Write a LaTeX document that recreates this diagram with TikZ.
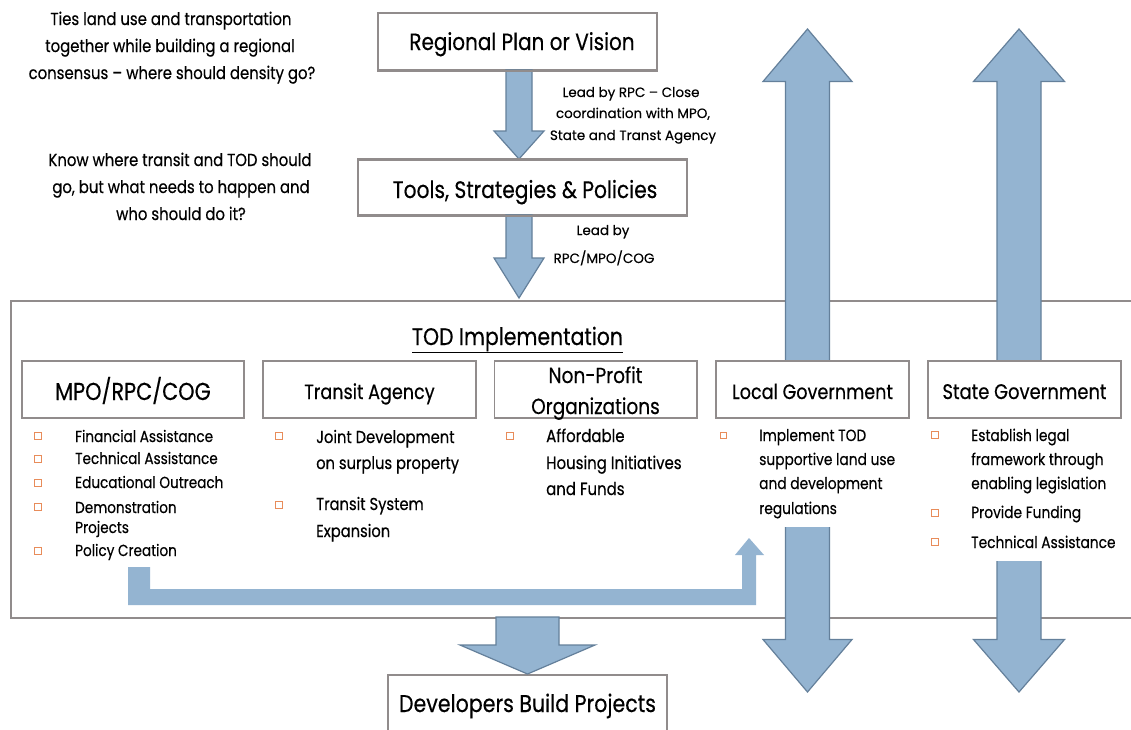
\documentclass[tikz,border=0pt]{standalone}
\usepackage{fontspec}
\setmainfont{Poppins}[FakeStretch=0.85,FakeBold=0.4]
\newfontfamily\leadfont{Poppins}[FakeStretch=1.0,FakeBold=0.3]
\usetikzlibrary{calc}
\definecolor{arrfill}{RGB}{148,180,209}
\definecolor{arrline}{RGB}{100,128,155}
\definecolor{boxline}{RGB}{145,140,140}
\definecolor{bul}{RGB}{232,140,90}
\newcommand\fsz[2]{\fontsize{#1}{#2}\selectfont}
\newcommand\downarr[5]{\draw[blockarrow] ($(#1)+(-#3,0)$) -- ($(#1)+(#3,0)$) -- ($(#2)+(#3,-#5)$) -- ($(#2)+(#4,-#5)$) -- (#2) -- ($(#2)+(-#4,-#5)$) -- ($(#2)+(-#3,-#5)$) -- cycle;}
\newcommand\dblarrow[5]{\draw[blockarrow] (#1) -- ($(#1)+(#4,#5)$) -- ($(#1)+(#3,#5)$) -- ($(#2)+(#3,-#5)$) -- ($(#2)+(#4,-#5)$) -- (#2) -- ($(#2)+(-#4,-#5)$) -- ($(#2)+(-#3,-#5)$) -- ($(#1)+(-#3,#5)$) -- ($(#1)+(-#4,#5)$) -- cycle;}
\begin{document}
\begin{tikzpicture}[x=1pt,y=-1pt,
  box/.style={draw=boxline, line width=1.6pt, fill=white, inner sep=0pt},
  blockarrow/.style={fill=arrfill, draw=arrline, line width=1.2pt, line join=miter},
  bulletbox/.style={draw=bul, line width=1pt, fill=white, minimum size=7pt, inner sep=0pt},
  note/.style={anchor=base, inner sep=0pt, font=\fsz{17.5}{20}},
  ttl/.style={anchor=base, inner sep=0pt, font=\fsz{23.5}{26}},
  sub/.style={anchor=base, inner sep=0pt, font=\fsz{20.7}{24}},
  lead/.style={anchor=base, inner sep=0pt, font=\leadfont\fsz{13.5}{16}},
  item/.style={anchor=base west, inner sep=0pt, font=\fsz{16}{18}},
  itemt/.style={anchor=base west, inner sep=0pt, font=\fsz{17.3}{19}},
  itemsm/.style={anchor=base west, inner sep=0pt, font=\fsz{16.2}{18}}]
\useasboundingbox (0,0) rectangle (1131,729);
\fill[white] (0,0) rectangle (1131,729);

% top notes
\node[note] (n1) at (171,25) {Ties land use and transportation};
\node[note] (n2) at (170,52) {together while building a regional};
\node[note] (n3) at (172,79) {consensus – where should density go?};
\node[note] (n4) at (180,166) {Know where transit and TOD should};
\node[note] (n5) at (181,193) {go, but what needs to happen and};
\node[note] (n6) at (181,220) {who should do it?};

% top boxes
\node[box, minimum width=279pt, minimum height=57pt] (rp) at (517.5,41.5) {};
\node[box, minimum width=329pt, minimum height=55pt] (tools) at (522.5,187.5) {};
% TOD box
\node[box, line width=2pt, minimum width=1135pt, minimum height=317pt, anchor=north west] (tod) at (10,300) {};

% arrows between top boxes
\coordinate (a1t) at (519,70);
\coordinate (a1b) at (519,159);
\downarr{a1t}{a1b}{13}{25}{28}
\coordinate (a2t) at (519,215);
\coordinate (a2b) at (519,298);
\downarr{a2t}{a2b}{13}{25}{40}
\draw[boxline, line width=1.6pt] (rp.south west) -- (rp.south east);
\draw[boxline, line width=1.6pt] (tools.north west) -- (tools.north east);
\draw[boxline, line width=1.6pt] (tools.south west) -- (tools.south east);

\node[ttl] (rpt) at (522,50) {Regional Plan or Vision};
\node[ttl, font=\fsz{23.8}{26}] (toolst) at (525,198) {Tools, Strategies \& Policies};

\node[lead] (l1) at (631,97) {Lead by RPC – Close};
\node[lead] (l2) at (633,118) {coordination with MPO,};
\node[lead] (l3) at (633,140) {State and Transt Agency};
\node[lead] (l4) at (603,235) {Lead by};
\node[lead] (l5) at (604,263) {RPC/MPO/COG};

% double arrows for local and state government
\coordinate (lgtop) at (807.5,29);
\coordinate (lgbot) at (807.5,692);
\dblarrow{lgtop}{lgbot}{22}{44.5}{52.5}
\coordinate (sgtop) at (1019,29);
\coordinate (sgbot) at (1019,692);
\dblarrow{sgtop}{sgbot}{22}{45.5}{52.5}

% bent arrow from MPO list to local government
\coordinate (bstart) at (139,567);
\coordinate (bend) at (749,538);
\fill[arrfill] (128,567) -- (150,567) -- (150,589) -- (742,589) -- (742,555) -- (735,555) -- (bend) -- (764,555) -- (756,555) -- (756,605) -- (128,605) -- cycle;

% white areas behind the lists of local and state government
\fill[white] (716,419) rectangle (909,527);
\fill[white] (928,419) rectangle (1121,561);

% sub boxes
\node[box, minimum width=222pt, minimum height=57pt] (mpo) at (133,389.5) {};
\node[box, minimum width=213pt, minimum height=57pt] (ta) at (369.5,389.5) {};
\node[box, minimum width=202.5pt, minimum height=57pt] (np) at (595.75,389.5) {};
\node[box, minimum width=193pt, minimum height=57pt] (lg) at (812.5,389.5) {};
\node[box, minimum width=193pt, minimum height=57pt] (sg) at (1024.5,389.5) {};

\node[anchor=base, inner sep=0pt, font=\fsz{24}{28}] (todt) at (517.5,345) {\underline{TOD Implementation}};

\node[sub, font=\fsz{24.5}{28}] (mpot) at (133,400) {MPO/RPC/COG};
\node[sub] (tat) at (369.5,399) {Transit Agency};
\node[sub, font=\fsz{21.8}{24}] (npt1) at (595.5,383) {Non-Profit};
\node[sub, font=\fsz{21.8}{24}] (npt2) at (595.5,414) {Organizations};
\node[sub] (lgt) at (812.5,399) {Local Government};
\node[sub, font=\fsz{21.1}{24}] (sgt) at (1024.5,399) {State Government};

% MPO list
\foreach \yy [count=\i] in {436,459,483,507,551} \node[bulletbox] (bm\i) at (38,\yy) {};
\node[item] (m1) at (75,442) {Financial Assistance};
\node[item] (m2) at (75,464) {Technical Assistance};
\node[item] (m3) at (75,488) {Educational Outreach};
\node[item] (m4) at (75,513) {Demonstration};
\node[item] (m5) at (75,533) {Projects};
\node[item] (m6) at (75,556) {Policy Creation};

% Transit list
\node[bulletbox] (bt1) at (279,436) {};
\node[bulletbox] (bt2) at (279,505) {};
\node[itemt] (t1) at (316,443) {Joint Development};
\node[itemt] (t2) at (316,469) {on surplus property};
\node[itemt] (t3) at (316,510) {Transit System};
\node[itemt] (t4) at (316,537) {Expansion};

% Non-profit list
\node[bulletbox] (bn1) at (510,436) {};
\node[itemt, font=\fsz{17.6}{19}] (p1) at (546,442) {Affordable};
\node[itemt, font=\fsz{17.6}{19}] (p2) at (546,469) {Housing Initiatives};
\node[itemt, font=\fsz{17.6}{19}] (p3) at (546,495) {and Funds};

% Local government list
\node[bulletbox, minimum size=6pt] (bl1) at (723,435) {};
\node[itemsm] (g1) at (759,441) {Implement TOD};
\node[itemsm] (g2) at (759,465) {supportive land use};
\node[itemsm] (g3) at (759,489) {and development};
\node[itemsm] (g4) at (759,514) {regulations};

% State government list
\node[bulletbox] (bs1) at (935,435) {};
\node[bulletbox] (bs2) at (935,513) {};
\node[bulletbox] (bs3) at (935,542) {};
\node[itemsm] (s1) at (971,441) {Establish legal};
\node[itemsm] (s2) at (971,465) {framework through};
\node[itemsm] (s3) at (971,489) {enabling legislation};
\node[itemsm] (s4) at (971,518) {Provide Funding};
\node[itemsm] (s5) at (971,548) {Technical Assistance};

% developers
\node[box, minimum width=279pt, minimum height=70pt, anchor=north] (dev) at (527.5,674) {};
\coordinate (dvt) at (527.5,617);
\downarr{dvt}{dev.north}{31.5}{67.5}{29}
\node[ttl, font=\fsz{24.2}{26}] (devt) at (527.5,712) {Developers Build Projects};
\end{tikzpicture}
\end{document}
